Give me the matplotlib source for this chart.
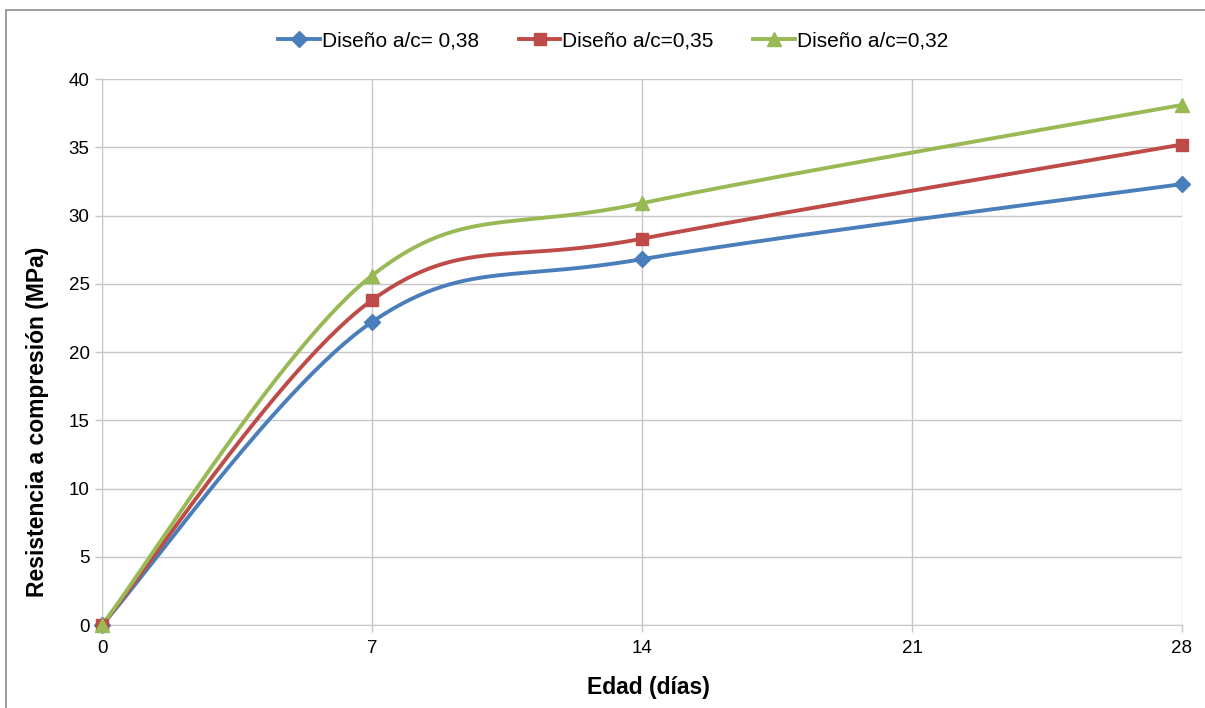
import numpy as np
import matplotlib
matplotlib.use("Agg")
import matplotlib.pyplot as plt
from matplotlib.lines import Line2D
from matplotlib.patches import Rectangle

plt.rcParams['font.family'] = ['Liberation Sans', 'DejaVu Sans']

# Edad de ensayo (días) y resistencia a compresión (MPa)
edad = [0, 7, 14, 28]
ac_038 = [0, 22.2, 26.8, 32.3]
ac_035 = [0, 23.8, 28.3, 35.2]
ac_032 = [0, 25.6, 30.9, 38.1]

series = [
    ("Diseño a/c= 0,38", ac_038, "#4a7ebb", "D", 8),
    ("Diseño a/c=0,35", ac_035, "#be4b48", "s", 9),
    ("Diseño a/c=0,32", ac_032, "#98b954", "^", 10),
]
x_ticks = [0, 7, 14, 21, 28]
y_ticks = [0, 5, 10, 15, 20, 25, 30, 35, 40]


def smooth(xs, ys, n=60):
    """Cubic Bezier smoothing through the points (Catmull-Rom style)."""
    p = np.column_stack([xs, ys]).astype(float)
    out = [p[0:1]]
    for i in range(len(p) - 1):
        p0 = p[i - 1] if i > 0 else p[i]
        p1, p2 = p[i], p[i + 1]
        p3 = p[i + 2] if i + 2 < len(p) else p[i + 1]
        c1 = p1 + (p2 - p0) / 6.0
        c2 = p2 - (p3 - p1) / 6.0
        t = np.linspace(0, 1, n)[1:, None]
        seg = ((1 - t) ** 3) * p1 + 3 * ((1 - t) ** 2) * t * c1 \
            + 3 * (1 - t) * t ** 2 * c2 + t ** 3 * p2
        out.append(seg)
    c = np.vstack(out)
    return c[:, 0], c[:, 1]


fig = plt.figure(figsize=(12.05, 7.08), dpi=100)
# outer chart frame
fig.patches.append(Rectangle((6 / 1205, -0.1), 1.2, 1 - 10 / 708 + 0.1,
                             transform=fig.transFigure, fill=False,
                             edgecolor="#8c8c8c", linewidth=1.2))
ax = fig.add_axes([102 / 1205, 1 - 625 / 708, 1080 / 1205, 546 / 708])

handles = []
for label, vals, color, marker, ms in series:
    sx, sy = smooth(edad, vals)
    ax.plot(sx, sy, color=color, linewidth=2.8, zorder=3, clip_on=False)
    ax.plot(edad, vals, linestyle="none", marker=marker, markersize=ms,
            color=color, zorder=4, clip_on=False)
    handles.append(Line2D([], [], color=color, linewidth=2.8, marker=marker,
                          markersize=ms, label=label))

ax.set_xlim(0, 28)
ax.set_ylim(0, 40)
ax.set_xticks(x_ticks)
ax.set_yticks(y_ticks)
ax.grid(True, color="#c6c6c6", linewidth=1.0, zorder=0)
ax.set_axisbelow(True)
for s in ax.spines.values():
    s.set_visible(False)
ax.spines['left'].set_visible(True)
ax.spines['bottom'].set_visible(True)
ax.spines['left'].set_color("#c6c6c6")
ax.spines['bottom'].set_color("#c6c6c6")
ax.tick_params(axis='both', colors="#c6c6c6", labelcolor="black",
               labelsize=13.5, length=5, width=1.0)
ax.tick_params(axis='x', pad=6)
ax.tick_params(axis='y', pad=4)

ax.set_xlabel("Edad (días)", fontsize=16.5, fontweight="bold", va="center")
ax.set_ylabel("Resistencia a compresión (MPa)", fontsize=16.5,
              fontweight="bold", va="center")
ax.xaxis.set_label_coords(0.5056, -0.115)
ax.yaxis.set_label_coords(-0.060, 0.372)

fig.legend(handles=handles, loc="center", bbox_to_anchor=(0.509, 1 - 41 / 708),
           ncol=3, frameon=False, fontsize=15, handlelength=2.0,
           handletextpad=0.1, columnspacing=1.9)

fig.savefig("out.png", dpi=100)
